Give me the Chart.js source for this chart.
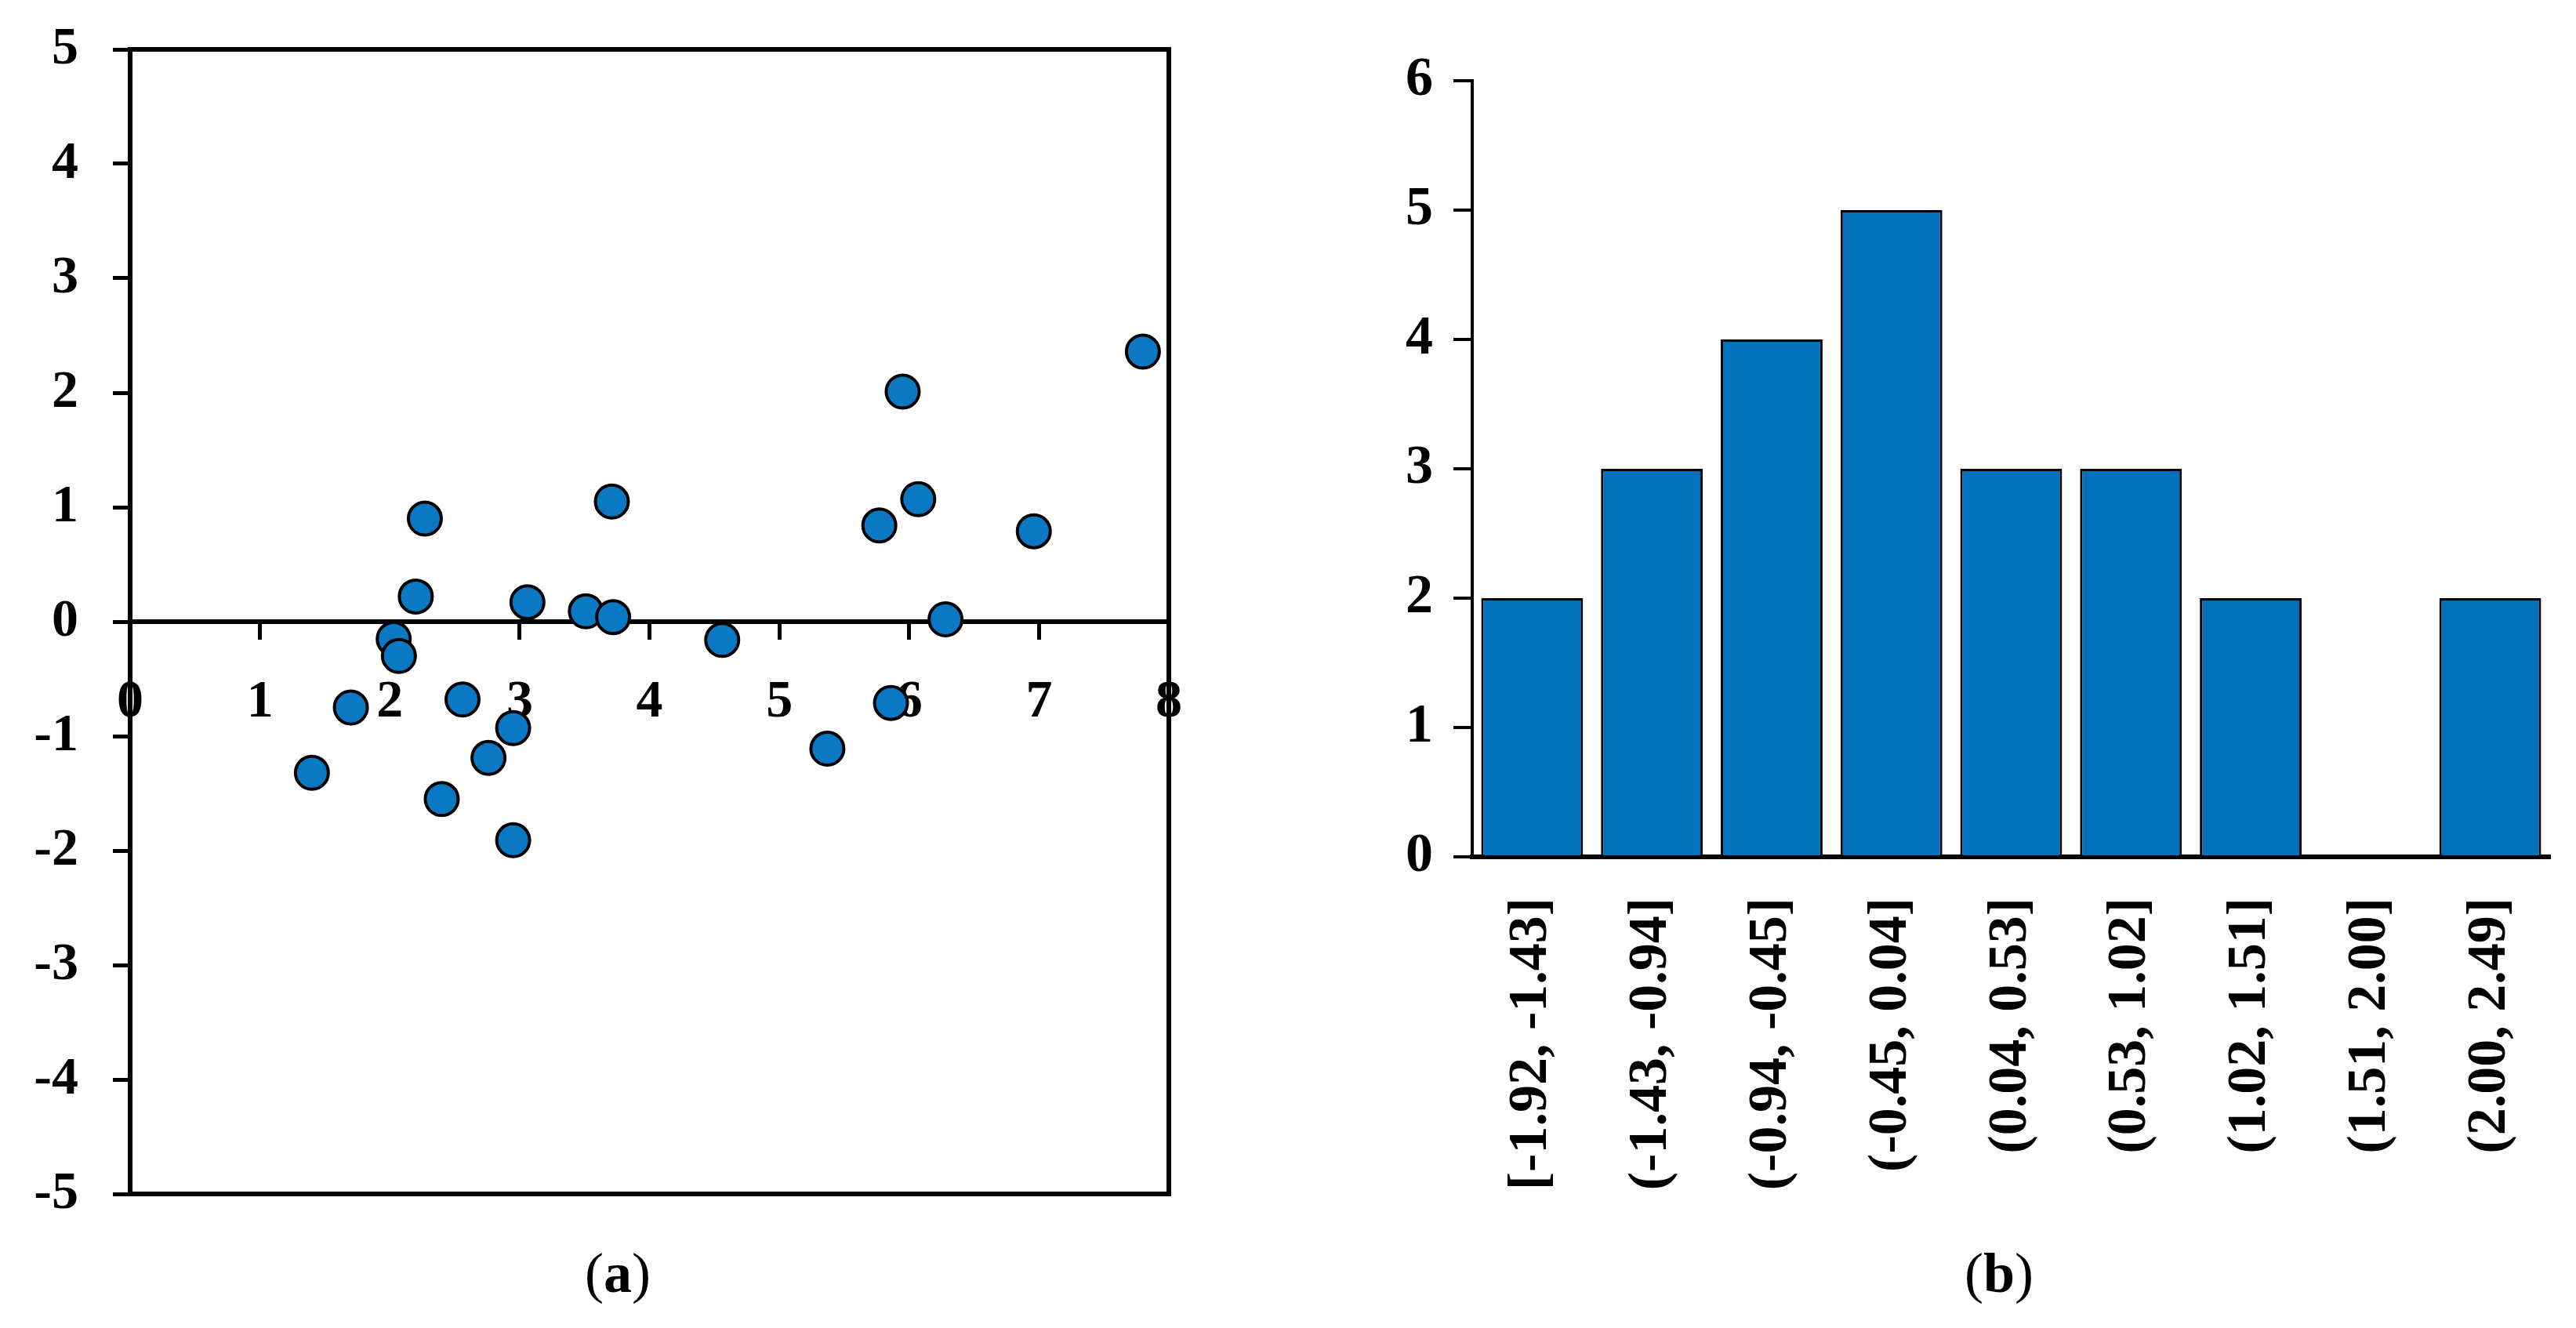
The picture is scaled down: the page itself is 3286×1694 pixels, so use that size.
<!DOCTYPE html>
<html lang="en">
<head>
    <meta charset="UTF-8">
    <title>Residuals scatter and histogram</title>
    <script src="https://cdn.jsdelivr.net/npm/chart.js@4.4.0/dist/chart.umd.min.js"></script>
    <style>
        body {
            margin: 0;
            background: #ffffff;
            width: 3286px;
            height: 1694px;
            position: relative;
            overflow: hidden;
            font-family: 'Liberation Serif', serif;
        }
        .panel {
            position: absolute;
            top: 0;
        }
        #panelA { left: 0; width: 1600px; height: 1560px; }
        #panelB { left: 1700px; width: 1586px; height: 1560px; }
        .caption {
            position: absolute;
            width: 200px;
            text-align: center;
            font-size: 72px;
            line-height: 72px;
            color: #000;
        }
    </style>
</head>
<body>
    <div class="panel" id="panelA"><canvas id="scatterChart"></canvas></div>
    <div class="panel" id="panelB"><canvas id="histChart"></canvas></div>
    <div class="caption" style="left:688px; top:1588px;">(<b>a</b>)</div>
    <div class="caption" style="left:2450px; top:1588px;">(<b>b</b>)</div>

    <script>
        // (a) scatter points
        const xValues = [7.80, 5.95, 2.27, 3.71, 5.77, 6.07, 6.96, 2.20, 3.06, 3.51, 3.72, 6.28,
                         2.03, 2.07, 4.56, 1.70, 2.56, 5.86, 2.95, 1.40, 2.76, 5.37, 2.40, 2.95];
        const yValues = [2.36, 2.01, 0.90, 1.05, 0.84, 1.07, 0.79, 0.22, 0.17, 0.09, 0.04, 0.02,
                         -0.15, -0.30, -0.16, -0.75, -0.68, -0.71, -0.93, -1.32, -1.19, -1.11, -1.55, -1.91];

        // (b) histogram
        const binLabels = ['[-1.92, -1.43]', '(-1.43, -0.94]', '(-0.94, -0.45]', '(-0.45, 0.04]',
                           '(0.04, 0.53]', '(0.53, 1.02]', '(1.02, 1.51]', '(1.51, 2.00]', '(2.00, 2.49]'];
        const binCounts = [2, 3, 4, 5, 3, 3, 2, 0, 2];

        Chart.defaults.font.family = "'Liberation Serif', serif";
        Chart.defaults.color = '#000000';
        Chart.defaults.animation = false;

        // frame around the scatter plot area
        const boxPlugin = {
            id: 'plotBox',
            afterDatasetsDraw(chart) {
                const a = chart.chartArea;
                const ctx = chart.ctx;
                ctx.save();
                ctx.strokeStyle = '#000000';
                ctx.lineWidth = 6;
                ctx.strokeRect(a.left, a.top, a.right - a.left, a.bottom - a.top);
                ctx.restore();
            }
        };

        new Chart(document.getElementById('scatterChart'), {
            type: 'scatter',
            data: {
                datasets: [{
                    data: xValues.map((x, i) => ({ x: x, y: yValues[i] })),
                    backgroundColor: '#0B78C3',
                    borderColor: '#000000',
                    borderWidth: 4,
                    pointRadius: 21,
                    pointHoverRadius: 21
                }]
            },
            options: {
                responsive: true,
                maintainAspectRatio: false,
                layout: { padding: { top: 63, right: 109, bottom: 37, left: 0 } },
                plugins: { legend: { display: false }, tooltip: { enabled: false } },
                scales: {
                    x: {
                        type: 'linear',
                        min: 0, max: 8,
                        position: { y: 0 },
                        ticks: { stepSize: 1, padding: 43, font: { size: 68, weight: 'bold' } },
                        grid: { drawOnChartArea: false, drawTicks: true, tickLength: 20, lineWidth: 5, color: '#000000' },
                        border: { display: true, width: 6, color: '#000000' }
                    },
                    y: {
                        min: -5, max: 5,
                        ticks: { stepSize: 1, padding: 44, font: { size: 68, weight: 'bold' } },
                        grid: { drawOnChartArea: false, drawTicks: true, tickLength: 22, lineWidth: 5, color: '#000000' },
                        border: { display: true, width: 6, color: '#000000' },
                        afterFit(scale) {
                            scale.width = 166;
                            scale.paddingTop = 0;
                            scale.paddingBottom = 0;
                        }
                    }
                }
            },
            plugins: [boxPlugin]
        });

        new Chart(document.getElementById('histChart'), {
            type: 'bar',
            data: {
                labels: binLabels,
                datasets: [{
                    data: binCounts,
                    backgroundColor: '#0071BA',
                    borderColor: '#000000',
                    borderWidth: 3,
                    barPercentage: 0.85,
                    categoryPercentage: 1.0
                }]
            },
            options: {
                responsive: true,
                maintainAspectRatio: false,
                layout: { padding: { top: 103, right: 33, bottom: 0, left: 0 } },
                plugins: { legend: { display: false }, tooltip: { enabled: false } },
                scales: {
                    x: {
                        ticks: { minRotation: 90, maxRotation: 90, padding: 52, font: { size: 70, weight: 'bold' } },
                        grid: { display: false, drawTicks: false },
                        border: { display: true, width: 6, color: '#000000' },
                        afterFit(scale) {
                            scale.height = 467;
                            scale.paddingLeft = 0;
                            scale.paddingRight = 0;
                        }
                    },
                    y: {
                        min: 0, max: 6,
                        ticks: { stepSize: 1, padding: 26, font: { size: 70, weight: 'bold' } },
                        grid: { drawOnChartArea: false, drawTicks: true, tickLength: 24, lineWidth: 4, color: '#000000' },
                        border: { display: true, width: 4, color: '#000000' },
                        afterFit(scale) {
                            scale.width = 178;
                            scale.paddingTop = 0;
                            scale.paddingBottom = 0;
                        }
                    }
                }
            }
        });
    </script>
</body>
</html>
